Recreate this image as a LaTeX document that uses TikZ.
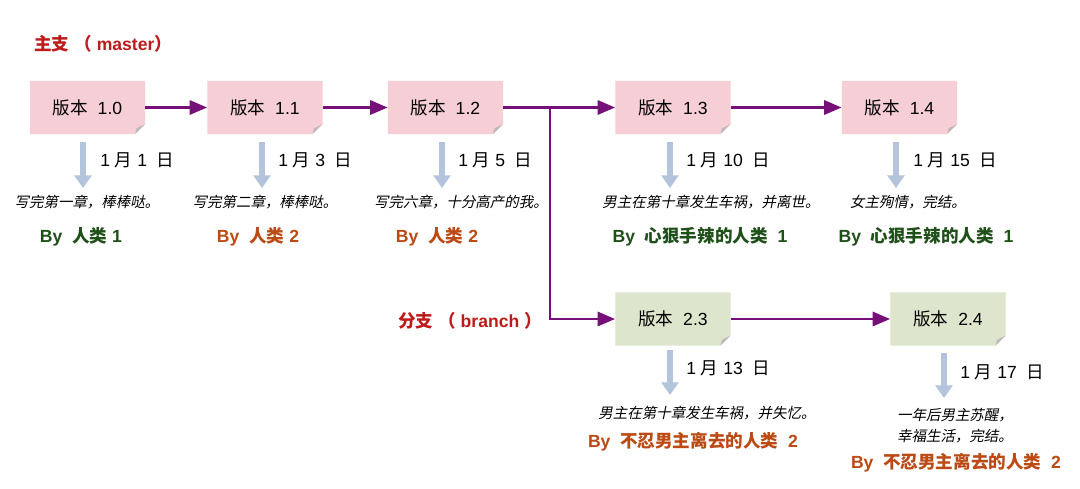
\documentclass[tikz,border=0pt]{standalone}
\usepackage{fontspec}
\setmainfont{Liberation Sans}
\newfontfamily\cjk{Noto Sans CJK SC}
\newfontfamily\cjkit{Noto Sans CJK SC}[FakeSlant=0.2]
\definecolor{notepink}{RGB}{246, 206, 214}
\definecolor{notegreen}{RGB}{221, 230, 204}
\definecolor{foldgrey}{RGB}{190, 182, 184}
\definecolor{flowpurple}{RGB}{118, 16, 120}
\definecolor{stepblue}{RGB}{180, 196, 220}
\definecolor{labelred}{RGB}{190, 28, 28}
\definecolor{bygreen}{RGB}{32, 80, 26}
\definecolor{byorange}{RGB}{188, 74, 20}
\usetikzlibrary{arrows.meta, positioning, calc}

\begin{document}
\begin{tikzpicture}[
    x=0.025cm, y=-0.025cm,
    version/.style={
        minimum width=2.875cm, minimum height=1.325cm, inner sep=0pt,
        font=\fontsize{12.5}{15}\selectfont,
        path picture={
            \fill[#1] (path picture bounding box.north west) -- (path picture bounding box.north east)
                -- ([yshift=7pt]path picture bounding box.south east)
                -- ([xshift=-7pt]path picture bounding box.south east)
                -- (path picture bounding box.south west) -- cycle;
            \fill[foldgrey] ([yshift=7pt]path picture bounding box.south east)
                -- ([xshift=-7pt]path picture bounding box.south east)
                -- ([xshift=-6pt,yshift=4pt]path picture bounding box.south east) -- cycle;
        }
    },
    flow/.style={
        -{Triangle[length=12.5pt, width=10pt]}, line width=2.1pt, draw=flowpurple
    },
    stepdown/.style={
        -{Triangle[length=9pt, width=12pt]}, line width=4.3pt, draw=stepblue
    },
    date/.style={font=\fontsize{12.5}{15}\selectfont, anchor=west, inner sep=0pt},
    story/.style={font=\fontsize{10.3}{15}\selectfont\cjkit, align=center, inner sep=0pt},
    bygood/.style={font=\fontsize{12.5}{15}\selectfont\bfseries, text=bygreen, inner sep=0pt},
    bybad/.style={font=\fontsize{12.5}{15}\selectfont\bfseries, text=byorange, inner sep=0pt},
    branchname/.style={font=\fontsize{12.5}{15}\selectfont\bfseries, text=labelred, inner sep=0pt}
]
\fill[white] (0,0) rectangle (1080,488);
\useasboundingbox (0,0) rectangle (1080,488);

% Branch names
\node[branchname, anchor=west] (master) at (34,44) {{\cjk 主支} {\cjk （} master{\cjk ）}};
\node[branchname] (branch) at (470,321) {{\cjk 分支} {\cjk （} branch {\cjk ）}};

% Master versions
\node[version=notepink] (v10) at (87.5,107.5) {{\cjk 版本}\ \ 1.0};
\node[version=notepink] (v11) at (265,107.5) {{\cjk 版本}\ \ 1.1};
\node[version=notepink] (v12) at (445.5,107.5) {{\cjk 版本}\ \ 1.2};
\node[version=notepink] (v13) at (673,107.5) {{\cjk 版本}\ \ 1.3};
\node[version=notepink] (v14) at (899.5,107.5) {{\cjk 版本}\ \ 1.4};

% Branch versions
\node[version=notegreen] (v23) at (673,319) {{\cjk 版本}\ \ 2.3};
\node[version=notegreen] (v24) at (948,319) {{\cjk 版本}\ \ 2.4};

% Version flow
\coordinate (split) at (550,107.5);
\draw[flow] (v10) -- (v11);
\draw[flow] (v11) -- (v12);
\draw[flow] (v12) -- (v13);
\draw[flow] (v13) -- (v14);
\draw[flow] (split) |- (v23);
\draw[flow] (v23) -- (v24);

% Commit arrows (start / end)
\coordinate (s10) at (83,142);  \coordinate (e10) at (83,188);
\coordinate (s11) at (262,142); \coordinate (e11) at (262,188);
\coordinate (s12) at (442,142); \coordinate (e12) at (442,188);
\coordinate (s13) at (670,142); \coordinate (e13) at (670,188);
\coordinate (s14) at (896,142); \coordinate (e14) at (896,188);
\coordinate (s23) at (670,350); \coordinate (e23) at (670,395);
\coordinate (s24) at (944,353); \coordinate (e24) at (944,398);
\draw[stepdown] (s10) -- (e10);
\draw[stepdown] (s11) -- (e11);
\draw[stepdown] (s12) -- (e12);
\draw[stepdown] (s13) -- (e13);
\draw[stepdown] (s14) -- (e14);
\draw[stepdown] (s23) -- (e23);
\draw[stepdown] (s24) -- (e24);

% Dates
\node[date] (d10) at ($(s10)+(17,18)$) {1 {\cjk 月} 1\ \ {\cjk 日}};
\node[date] (d11) at ($(s11)+(16,18)$) {1 {\cjk 月} 3\ \ {\cjk 日}};
\node[date] (d12) at ($(s12)+(16,18)$) {1 {\cjk 月} 5\ \ {\cjk 日}};
\node[date] (d13) at ($(s13)+(16,18)$) {1 {\cjk 月} 10\ \ {\cjk 日}};
\node[date] (d14) at ($(s14)+(17,18)$) {1 {\cjk 月} 15\ \ {\cjk 日}};
\node[date] (d23) at ($(s23)+(16,18)$) {1 {\cjk 月} 13\ \ {\cjk 日}};
\node[date] (d24) at ($(s24)+(16,19)$) {1 {\cjk 月} 17\ \ {\cjk 日}};

% What happened
\node[story] (t10) at (87,202) {写完第一章，棒棒哒。};
\node[story] (t11) at (265,202) {写完第二章，棒棒哒。};
\node[story] (t12) at (461,202) {写完六章，十分高产的我。};
\node[story] (t13) at (711,202) {男主在第十章发生车祸，并离世。};
\node[story] (t14) at (908,202) {女主殉情，完结。};
\node[story] (t23) at (707,413) {男主在第十章发生车祸，并失忆。};
\node[story] (t24) at (955,425.5) {一年后男主苏醒，\\幸福生活，完结。};

% Authors
\node[bygood] (b10) at (81,237) {By\ \ {\cjk 人类} 1};
\node[bybad] (b11) at (258,237) {By\ \ {\cjk 人类} 2};
\node[bybad] (b12) at (437,237) {By\ \ {\cjk 人类} 2};
\node[bygood] (b13) at (700,237) {By\ \ {\cjk 心狠手辣的人类}\ \ 1};
\node[bygood] (b14) at (926,237) {By\ \ {\cjk 心狠手辣的人类}\ \ 1};
\node[bybad] (b23) at (693,442) {By\ \ {\cjk 不忍男主离去的人类}\ \ 2};
\node[bybad] (b24) at (956,463) {By\ \ {\cjk 不忍男主离去的人类}\ \ 2};

\end{tikzpicture}
\end{document}
